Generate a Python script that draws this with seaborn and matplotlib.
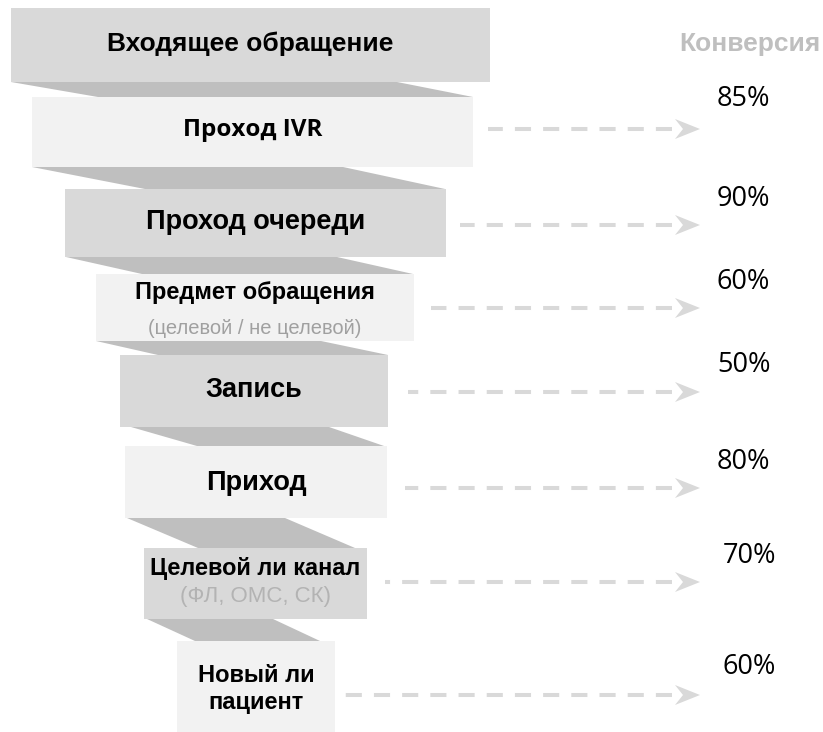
import matplotlib
matplotlib.use("Agg")
import seaborn as sns
from matplotlib import pyplot as plt

# funnel stages, top to bottom
stages = ["Входящее обращение", "Проход IVR", "Проход очереди", "Предмет обращения",
          "Запись", "Приход", "Целевой ли канал", "Новый ли\nпациент"]
notes = ["", "", "", "(целевой / не целевой)", "", "", "(ФЛ, ОМС, СК)", ""]
conversion = [85, 90, 60, 50, 80, 70, 60]
header = "Конверсия"

# layout, in pixels of the 823x732 picture (y grows down)
box_left = [11, 32, 65, 96, 120, 125, 144, 177]
box_right = [490, 473, 446, 414, 388, 387, 367, 335]
box_top = [8, 97, 189, 274, 355, 446, 548, 641]
box_bottom = [82, 167, 257, 341, 427, 518, 619, 732]
box_color = ["#d9d9d9", "#f2f2f2"]
# connectors: top-left, top-right, bottom-left, bottom-right x
conn = [(11, 397, 98, 473), (32, 343, 145, 445), (66, 337, 142, 413),
        (96, 321, 158, 388), (131, 329, 197, 384), (127, 285, 198, 355),
        (147, 273, 195, 320)]
label_base = [51, 136, 229, 299, 397, 490, 575, 682]
label_size = [19, 17.5, 19.5, 17, 19.5, 19.5, 16.9, 17]
note_base = [0, 0, 0, 334, 0, 0, 602]
note_size = [0, 0, 0, 14.5, 0, 0, 16]
note_color = ["#a0a0a0", "#b3b3b3"]
arrow_start = [488, 460, 431, 408, 405, 385, 345]
arrow_y = [129, 225, 308, 392, 488, 582, 695]
pct_x = [717, 717, 717, 717, 717, 723, 723]
pct_base = [106, 206, 289, 372, 469, 563, 674]

sns.set_theme(style="white")
plt.rcParams['font.family'] = ['Liberation Sans', 'DejaVu Sans']

fig = plt.figure(figsize=(8.23, 7.32), dpi=100)
ax = fig.add_axes([0, 0, 1, 1])
ax.set_xlim(0, 823)
ax.set_ylim(732, 0)
ax.axis("off")

for i, c in enumerate(conn):
    tl, tr, bl, br = c
    y0, y1 = box_bottom[i], box_top[i + 1]
    ax.fill([tl, tr, br, bl], [y0, y0, y1, y1], color="#bfbfbf", lw=0)

widths = [r - l for l, r in zip(box_left, box_right)]
heights = [b - t for t, b in zip(box_top, box_bottom)]
ax.bar(box_left, heights, width=widths, bottom=box_top, align="edge",
       color=[box_color[i % 2] for i in range(len(stages))], lw=0)

for i, s in enumerate(stages):
    xc = (box_left[i] + box_right[i]) / 2
    fam = ['Open Sans', 'DejaVu Sans'] if i == 1 else ['Liberation Sans', 'DejaVu Sans']
    lines = s.split("\n")
    for k, ln in enumerate(lines):
        ax.text(xc, label_base[i] + k * 27, ln, ha="center", va="baseline",
                fontsize=label_size[i], fontweight="bold", color="black", family=fam)
    if i < len(note_base) and notes[i]:
        ax.text(xc, note_base[i], notes[i], ha="center", va="baseline",
                fontsize=note_size[i],
                color=note_color[0] if i == 3 else note_color[1])

for i, v in enumerate(conversion):
    y = arrow_y[i]
    # drawn from the head back, so a full dash sits next to the arrowhead
    ax.plot([672, arrow_start[i]], [y, y], color="#d9d9d9", lw=2.9,
            ls=(0, (4, 3)), dash_capstyle="butt")
    ax.fill([675, 700, 675, 683], [y - 10, y, y + 10, y], color="#d9d9d9", lw=0)
    ax.text(pct_x[i], pct_base[i], f"{v}%", ha="left", va="baseline", fontsize=19.5,
            color="black", family=['Open Sans', 'DejaVu Sans'])

ax.text(679, 51, header, ha="left", va="baseline", fontsize=19, fontweight="bold",
        color="#bfbfbf")

fig.savefig("out.png", dpi=100)
